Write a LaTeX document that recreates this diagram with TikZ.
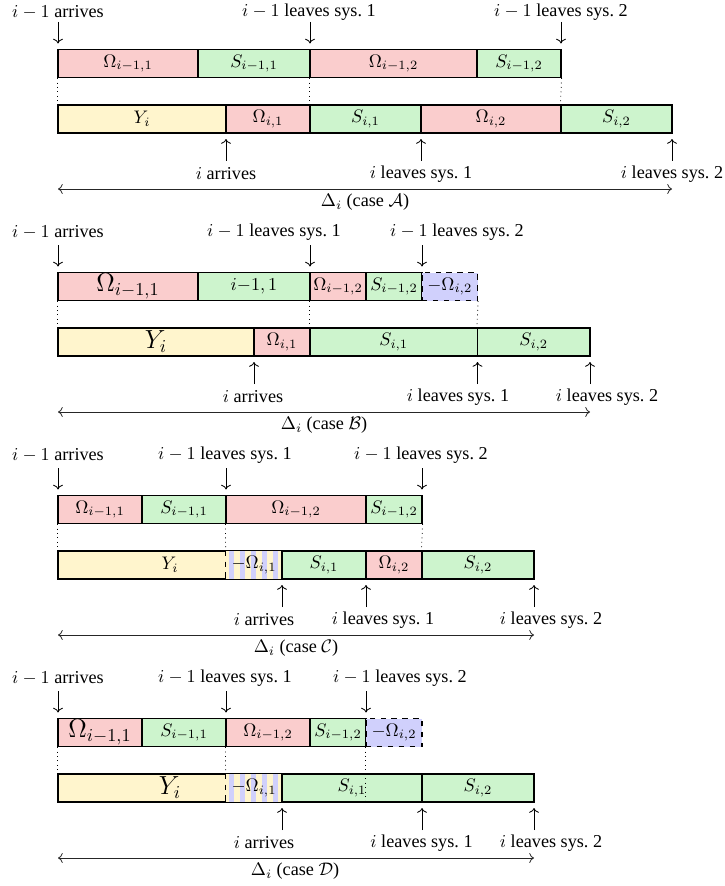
\documentclass[tikz,border=0pt]{standalone}
\usepackage{fontspec}
\setmainfont{Liberation Serif}
\usetikzlibrary{arrows.meta}
\definecolor{cyel}{RGB}{255,245,205}
\definecolor{cgrn}{RGB}{205,244,205}
\definecolor{cred}{RGB}{250,205,205}
\definecolor{cblu}{RGB}{208,208,252}
\tikzset{
  cell/.style={draw=black, line width=0.65pt, inner sep=0pt, minimum height={28*0.55pt}},
  lbl/.style={inner sep=0pt},
  arr/.style={->, line width=0.45pt},
  dotln/.style={dotted, line width=0.45pt},
  dbl/.style={<->, line width=0.45pt, draw=black!85},
  big/.style={font=\Large},
}
% name, x1, x2, yc, fill, extra, text
\newcommand\cellbox[7]{\node[cell, fill=#5, minimum width={(#3-#2)*0.55pt}, #6] (#1) at ({(#2+#3)/2},#4) {#7};}
% name, x1, x2, text (bottom bar)
\newcommand\stripebox[4]{%
  \fill[cyel] (#2,105) rectangle (#3,133);
  \foreach \k in {0,...,4} {\fill[cblu] ({#2+2.5+11.2*\k},105) rectangle ({#2+7.5+11.2*\k},133);}
  \node[inner sep=0pt, minimum width={(#3-#2)*0.55pt}, minimum height={28*0.55pt}] (#1) at ({(#2+#3)/2},119) {#4};}
% name, x, target anchor
\newcommand\downarr[3]{\coordinate (#1) at (#2,22); \draw[arr, shorten >=3pt] (#1) -- (#1 |- #3);}
\newcommand\uparr[3]{\coordinate (#1) at (#2,161); \draw[arr, shorten >=3pt] (#1) -- (#1 |- #3);}
\begin{document}
\begin{tikzpicture}[x=0.55pt, y=-0.55pt]
\useasboundingbox (0,0) rectangle (725,886);

% ---------------- case A ----------------
\begin{scope}
\cellbox{aT1}{58}{198}{63.5}{cred}{}{$\Omega_{i-1,1}$}
\cellbox{aT2}{198}{310}{63.5}{cgrn}{}{$S_{i-1,1}$}
\cellbox{aT3}{310}{477}{63.5}{cred}{}{$\Omega_{i-1,2}$}
\cellbox{aT4}{477}{561}{63.5}{cgrn}{}{$S_{i-1,2}$}
\cellbox{aB1}{58}{226}{119}{cyel}{}{$Y_i$}
\cellbox{aB2}{226}{310}{119}{cred}{}{$\Omega_{i,1}$}
\cellbox{aB3}{310}{421}{119}{cgrn}{}{$S_{i,1}$}
\cellbox{aB4}{421}{561}{119}{cred}{}{$\Omega_{i,2}$}
\cellbox{aB5}{561}{672}{119}{cgrn}{}{$S_{i,2}$}
\draw[dotln] (aT1.south west) -- (aB1.north west);
\draw[dotln] (aT3.south west) -- (aB3.north west);
\draw[dotln] (aT4.south east) -- (aB5.north west);
\node[lbl] (aL1) at (58,12.5) {$i-1$ arrives};
\node[lbl] (aL2) at (309,12.5) {$i-1$ leaves sys.~1};
\node[lbl] (aL3) at (561,12.5) {$i-1$ leaves sys.~2};
\downarr{aP1}{58}{aT1.north}
\downarr{aP2}{310}{aT3.north}
\downarr{aP3}{561}{aT4.north}
\uparr{aQ1}{226}{aB1.south}
\uparr{aQ2}{421}{aB3.south}
\uparr{aQ3}{672}{aB5.south}
\node[lbl] (aM1) at (226,174) {$i$ arrives};
\node[lbl] (aM2) at (421,174) {$i$ leaves sys.~1};
\node[lbl] (aM3) at (672,174) {$i$ leaves sys.~2};
\coordinate (aD1) at (58,189); \coordinate (aD2) at (672,189);
\draw[dbl] (aD1) -- (aD2);
\node[lbl] (aDl) at (365,202) {$\Delta_i$ (case $\mathcal{A}$)};
\end{scope}

% ---------------- case B ----------------
\begin{scope}[shift={(0,223)}]
\cellbox{bT1}{58}{198}{63.5}{cred}{big}{$\Omega_{i-1,1}$}
\cellbox{bT2}{198}{310}{63.5}{cgrn}{}{${i{-}1,1}$}
\cellbox{bT3}{310}{366}{63.5}{cred}{}{$\Omega_{i-1,2}$}
\cellbox{bT4}{366}{422}{63.5}{cgrn}{}{$S_{i-1,2}$}
\cellbox{bT5}{422}{477.5}{63.5}{cblu}{dashed}{$-\Omega_{i,2}$}
\cellbox{bB1}{58}{254}{119}{cyel}{big}{$Y_i$}
\cellbox{bB2}{254}{310}{119}{cred}{}{$\Omega_{i,1}$}
\cellbox{bB3}{310}{477.5}{119}{cgrn}{}{$S_{i,1}$}
\cellbox{bB4}{477.5}{590}{119}{cgrn}{}{$S_{i,2}$}
\draw[dotln] (bT1.south west) -- (bB1.north west);
\draw[dotln] (bT3.south west) -- (bB3.north west);
\draw[dotln] (bT5.south east) -- (bB4.north west);
\node[lbl] (bL1) at (58,9.5) {$i-1$ arrives};
\node[lbl] (bL2) at (274,9.5) {$i-1$ leaves sys.~1};
\node[lbl] (bL3) at (457,9.5) {$i-1$ leaves sys.~2};
\downarr{bP1}{58}{bT1.north}
\downarr{bP2}{310}{bT3.north}
\downarr{bP3}{422}{bT5.north}
\uparr{bQ1}{254}{bB1.south}
\uparr{bQ2}{477.5}{bB3.south}
\uparr{bQ3}{590}{bB4.south}
\node[lbl] (bM1) at (253,174) {$i$ arrives};
\node[lbl] (bM2) at (458,174) {$i$ leaves sys.~1};
\node[lbl] (bM3) at (607,174) {$i$ leaves sys.~2};
\coordinate (bD1) at (58,189); \coordinate (bD2) at (590,189);
\draw[dbl] (bD1) -- (bD2);
\node[lbl] (bDl) at (324,202) {$\Delta_i$ (case $\mathcal{B}$)};
\end{scope}

% ---------------- case C ----------------
\begin{scope}[shift={(0,446)}]
\cellbox{cT1}{58}{142}{63.5}{cred}{}{$\Omega_{i-1,1}$}
\cellbox{cT2}{142}{226}{63.5}{cgrn}{}{$S_{i-1,1}$}
\cellbox{cT3}{226}{366}{63.5}{cred}{}{$\Omega_{i-1,2}$}
\cellbox{cT4}{366}{422}{63.5}{cgrn}{}{$S_{i-1,2}$}
\cellbox{cB1}{58}{282}{119}{cyel}{}{$Y_i$}
\stripebox{cB2}{226}{282}{$-\Omega_{i,1}$}
\draw[line width=0.65pt] (cB1.north west) rectangle (cB1.south east);
\draw[dashed, line width=0.65pt] (cB2.north west) -- (cB2.south west);
\cellbox{cB3}{282}{366}{119}{cgrn}{}{$S_{i,1}$}
\cellbox{cB4}{366}{422}{119}{cred}{}{$\Omega_{i,2}$}
\cellbox{cB5}{422}{534}{119}{cgrn}{}{$S_{i,2}$}
\draw[dotln] (cT1.south west) -- (cB1.north west);
\draw[dotln] (cT3.south west) -- (cB2.north west);
\draw[dotln] (cT4.south east) -- (cB5.north west);
\node[lbl] (cL1) at (58,9.5) {$i-1$ arrives};
\node[lbl] (cL2) at (225,9.5) {$i-1$ leaves sys.~1};
\node[lbl] (cL3) at (421,9.5) {$i-1$ leaves sys.~2};
\downarr{cP1}{58}{cT1.north}
\downarr{cP2}{226}{cT3.north}
\downarr{cP3}{422}{cT4.north}
\uparr{cQ1}{282}{cB3.south}
\uparr{cQ2}{366}{cB4.south}
\uparr{cQ3}{534}{cB5.south}
\node[lbl] (cM1) at (264,174) {$i$ arrives};
\node[lbl] (cM2) at (383,174) {$i$ leaves sys.~1};
\node[lbl] (cM3) at (551,174) {$i$ leaves sys.~2};
\coordinate (cD1) at (58,189); \coordinate (cD2) at (534,189);
\draw[dbl] (cD1) -- (cD2);
\node[lbl] (cDl) at (296,202) {$\Delta_i$ (case $\mathcal{C}$)};
\end{scope}

% ---------------- case D ----------------
\begin{scope}[shift={(0,669)}]
\cellbox{dT1}{58}{142}{63.5}{cred}{big}{$\Omega_{i-1,1}$}
\cellbox{dT2}{142}{226}{63.5}{cgrn}{}{$S_{i-1,1}$}
\cellbox{dT3}{226}{310}{63.5}{cred}{}{$\Omega_{i-1,2}$}
\cellbox{dT4}{310}{366}{63.5}{cgrn}{}{$S_{i-1,2}$}
\cellbox{dT5}{366}{422}{63.5}{cblu}{dashed}{$-\Omega_{i,2}$}
\cellbox{dB1}{58}{282}{119}{cyel}{big}{$Y_i$}
\stripebox{dB2}{226}{282}{$-\Omega_{i,1}$}
\draw[line width=0.65pt] (dB1.north west) rectangle (dB1.south east);
\draw[dashed, line width=0.65pt] (dB2.north west) -- (dB2.south west);
\cellbox{dB3}{282}{422}{119}{cgrn}{}{$S_{i,1}$}
\cellbox{dB4}{422}{534}{119}{cgrn}{}{$S_{i,2}$}
\draw[dotln] (dT1.south west) -- (dB1.north west);
\draw[dotln] (dT3.south west) -- (dB2.north west);
\draw[dotln] (dT5.south west) -- (dT5.south west |- dB3.south);
\node[lbl] (dL1) at (58,9.5) {$i-1$ arrives};
\node[lbl] (dL2) at (225,9.5) {$i-1$ leaves sys.~1};
\node[lbl] (dL3) at (400,9.5) {$i-1$ leaves sys.~2};
\downarr{dP1}{58}{dT1.north}
\downarr{dP2}{226}{dT3.north}
\downarr{dP3}{366}{dT5.north}
\uparr{dQ1}{282}{dB3.south}
\uparr{dQ2}{422}{dB4.south}
\uparr{dQ3}{534}{dB4.south}
\node[lbl] (dM1) at (264,174) {$i$ arrives};
\node[lbl] (dM2) at (421.5,174) {$i$ leaves sys.~1};
\node[lbl] (dM3) at (551,174) {$i$ leaves sys.~2};
\coordinate (dD1) at (58,189); \coordinate (dD2) at (534,189);
\draw[dbl] (dD1) -- (dD2);
\node[lbl] (dDl) at (295,202) {$\Delta_i$ (case $\mathcal{D}$)};
\end{scope}
\end{tikzpicture}
\end{document}
